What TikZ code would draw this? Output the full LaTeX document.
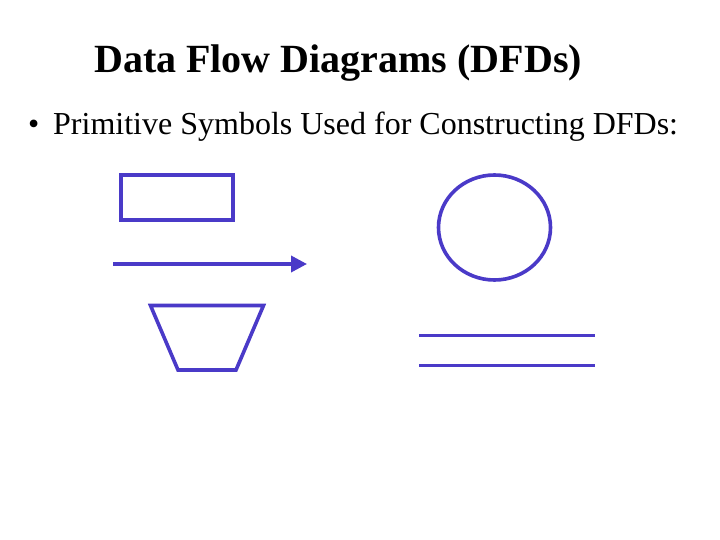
\documentclass[tikz,border=0pt]{standalone}
\usepackage{fontspec}
\setmainfont{Liberation Serif}
\usetikzlibrary{arrows.meta}
\definecolor{dfdblue}{RGB}{74,58,200}
\begin{document}
\begin{tikzpicture}[x=1pt,y=-1pt,
  sym/.style={draw=dfdblue,line width=3.6pt},
  ttl/.style={font=\fontsize{40}{44}\selectfont\bfseries,inner sep=0pt,anchor=base west},
  bodytxt/.style={font=\fontsize{32}{36}\selectfont,inner sep=0pt,anchor=base west}]
\useasboundingbox[fill=white] (0,0) rectangle (720,540);
\node[ttl] (title) at (94,73) {Data Flow Diagrams (DFDs)};
\node[bodytxt] (bullet) at (28,135) {\textbullet};
\node[bodytxt] (body) at (53,135) {Primitive Symbols Used for Constructing DFDs:};
% external entity
\draw[sym] (120.8,174.8) rectangle (233.2,220.2);
% data flow
\coordinate (flowA) at (113,264);
\coordinate (flowB) at (307,264);
\draw[sym,-{Triangle[length=16pt,width=16pt]}] (flowA) -- (flowB);
% process
\draw[sym] (494.5,227.5) ellipse [x radius=56,y radius=52.5];
% data store
\draw[sym] (419,335.5) -- (595,335.5);
\draw[sym] (419,365.5) -- (595,365.5);
% input/output trapezoid
\draw[sym,line join=miter] (150.5,305.5) -- (263.5,305.5) -- (236,370) -- (178,370) -- cycle;
\end{tikzpicture}
\end{document}
